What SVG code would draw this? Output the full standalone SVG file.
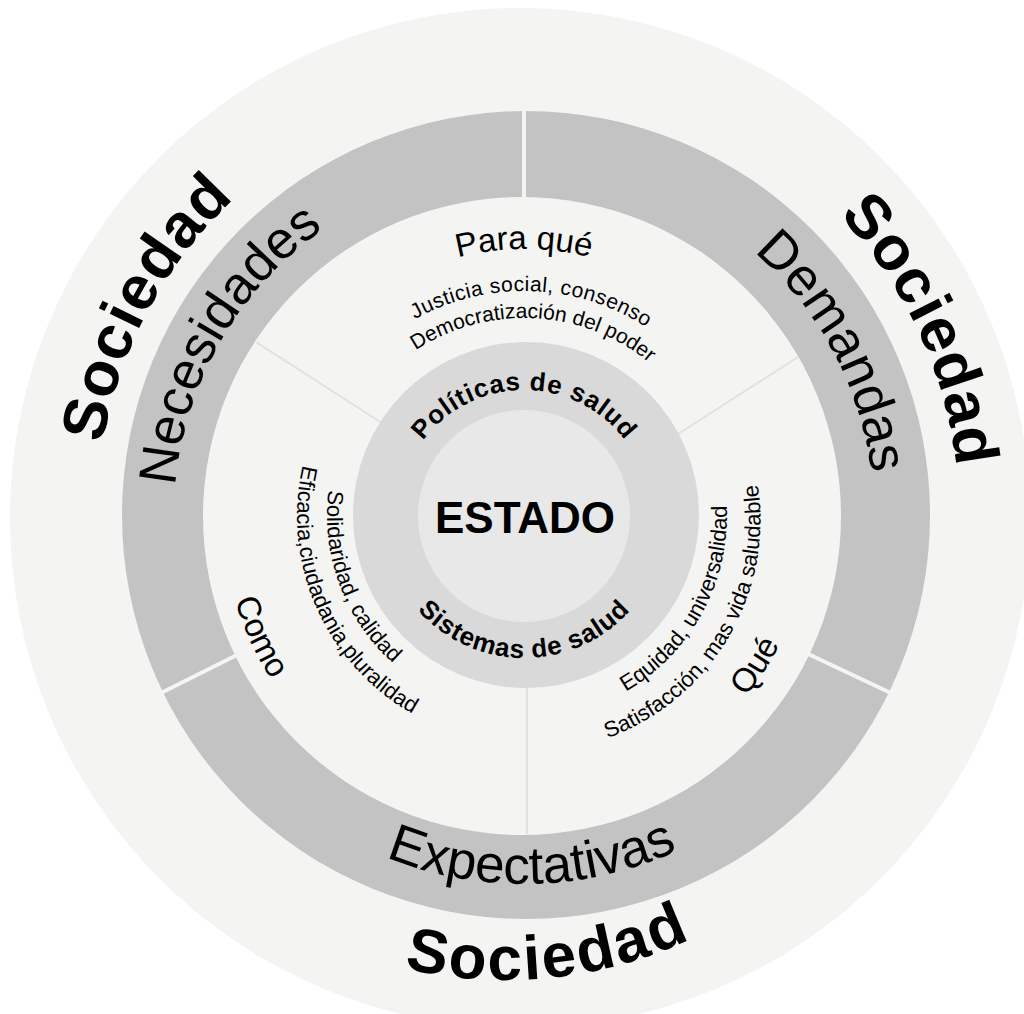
<svg xmlns="http://www.w3.org/2000/svg" width="1024" height="1014" viewBox="0 0 1024 1014">
<style>
.t{font-family:"Liberation Sans",Arial,sans-serif;fill:#000}
.b{font-weight:bold}
.big{font-size:53px}
.soc{font-size:62px;font-weight:bold}
.mid{font-size:33px}
.sm{font-size:21px}
.sm2{font-size:22px}
.ctr{font-size:26px;font-weight:bold}
.ringdiv{stroke:#f4f4f3;stroke-width:4}
.conn{stroke:#e1e1e1;stroke-width:2}
</style>
<defs>
<path id="pSocL" d="M260.92,852.27 A431,431 0 0 1 663.33,104.80"/>
<path id="pSocR" d="M416.45,97.69 A431,431 0 0 1 775.21,867.05"/>
<path id="pSocB" d="M83.4,665.2 A440,440 0 0 0 943.8,575.5"/>
<path id="pNec" d="M299.02,784.11 A350,350 0 0 1 643.71,187.11"/>
<path id="pDem" d="M415.84,183.13 A350,350 0 0 1 739.48,791.80"/>
<path id="pExp" d="M163.14,588.11 A368,368 0 0 0 887.76,571.66"/>
<path id="pPara" d="M261.06,469.64 A267,267 0 0 1 786.94,469.64"/>
<path id="pJus" d="M303.92,469.22 A225,225 0 0 1 746.81,484.69"/>
<path id="pDem2" d="M331.07,471.46 A198,198 0 0 1 720.52,491.87"/>
<path id="pComo" d="M353.15,268.19 A301,301 0 0 0 599.87,807.28"/>
<path id="pQue" d="M412.71,779.46 A286,286 0 0 0 718.69,306.49"/>
<path id="pSol" d="M424.31,346.09 A197,197 0 0 0 559.56,709.76"/>
<path id="pEfi" d="M397.72,327.37 A227,227 0 0 0 578.15,736.45"/>
<path id="pEqu" d="M459.59,708.51 A203,203 0 0 0 650.37,357.13"/>
<path id="pSat" d="M441.29,734.89 A232,232 0 0 0 675.10,340.10"/>
<path id="pPol" d="M399.91,494.12 A126,126 0 0 1 648.09,494.12"/>
<path id="pSis" d="M384.15,540.65 A142,142 0 0 0 663.85,540.65"/>
</defs>

<g id="sociedad">
<circle cx="520" cy="518" r="510" fill="#f4f4f3"/>
<text class="t soc" letter-spacing="1"><textPath href="#pSocL" startOffset="50%" text-anchor="middle">Sociedad</textPath></text>
<text class="t soc" letter-spacing="1"><textPath href="#pSocR" startOffset="50%" text-anchor="middle">Sociedad</textPath></text>
<text class="t soc" font-size="64" letter-spacing="2.5"><textPath href="#pSocB" startOffset="50%" text-anchor="middle">Sociedad</textPath></text>
</g>

<g id="ring">
<circle cx="526" cy="515" r="404" fill="#c3c3c3"/>
<line class="ringdiv" x1="524" y1="105" x2="524" y2="205"/>
<line class="ringdiv" x1="158" y1="694.5" x2="240" y2="653.5"/>
<line class="ringdiv" x1="894" y1="694.5" x2="804" y2="652"/>
</g>

<g id="necesidades">
<text class="t big"><textPath href="#pNec" startOffset="50%" text-anchor="middle">Necesidades</textPath></text>
</g>
<g id="demandas">
<text class="t big"><textPath href="#pDem" startOffset="50%" text-anchor="middle">Demandas</textPath></text>
</g>
<g id="expectativas">
<text class="t big" font-size="52"><textPath href="#pExp" startOffset="50%" text-anchor="middle">Expectativas</textPath></text>
</g>

<g id="inner-area">
<circle cx="522" cy="516" r="319" fill="#f4f4f3"/>
</g>

<g id="connectors">
<line class="conn" x1="256.5" y1="342.3" x2="385" y2="425"/>
<line class="conn" x1="798" y1="357" x2="675" y2="436"/>
<line class="conn" x1="527" y1="680" x2="527" y2="834"/>
</g>

<g id="para-que">
<text class="t mid"><textPath href="#pPara" startOffset="50%" text-anchor="middle">Para qué</textPath></text>
<text class="t sm"><textPath href="#pJus" startOffset="50%" text-anchor="middle" letter-spacing="0.5">Justicia social, consenso</textPath></text>
<text class="t sm"><textPath href="#pDem2" startOffset="50%" text-anchor="middle">Democratización del poder</textPath></text>
</g>

<g id="como">
<text class="t mid"><textPath href="#pComo" startOffset="50%" text-anchor="middle">Como</textPath></text>
<text class="t sm2"><textPath href="#pSol" startOffset="50%" text-anchor="middle">Solidaridad, calidad</textPath></text>
<text class="t sm2"><textPath href="#pEfi" startOffset="50%" text-anchor="middle">Eficacia,ciudadania,pluralidad</textPath></text>
</g>

<g id="que">
<text class="t mid"><textPath href="#pQue" startOffset="50%" text-anchor="middle">Qué</textPath></text>
<text class="t sm2"><textPath href="#pEqu" startOffset="50%" text-anchor="middle">Equidad, universalidad</textPath></text>
<text class="t sm2"><textPath href="#pSat" startOffset="50%" text-anchor="middle">Satisfacción, mas vida saludable</textPath></text>
</g>

<g id="politicas-sistemas">
<circle cx="526" cy="515" r="173" fill="#d9d9d9"/>
<text class="t ctr" letter-spacing="0.8"><textPath href="#pPol" startOffset="50%" text-anchor="middle">Políticas de salud</textPath></text>
<text class="t ctr" letter-spacing="0.8"><textPath href="#pSis" startOffset="50%" text-anchor="middle">Sistemas de salud</textPath></text>
</g>

<g id="estado">
<circle cx="524" cy="516" r="106" fill="#e8e8e8"/>
<text class="t b" x="525" y="533" font-size="44" text-anchor="middle">ESTADO</text>
</g>
</svg>
